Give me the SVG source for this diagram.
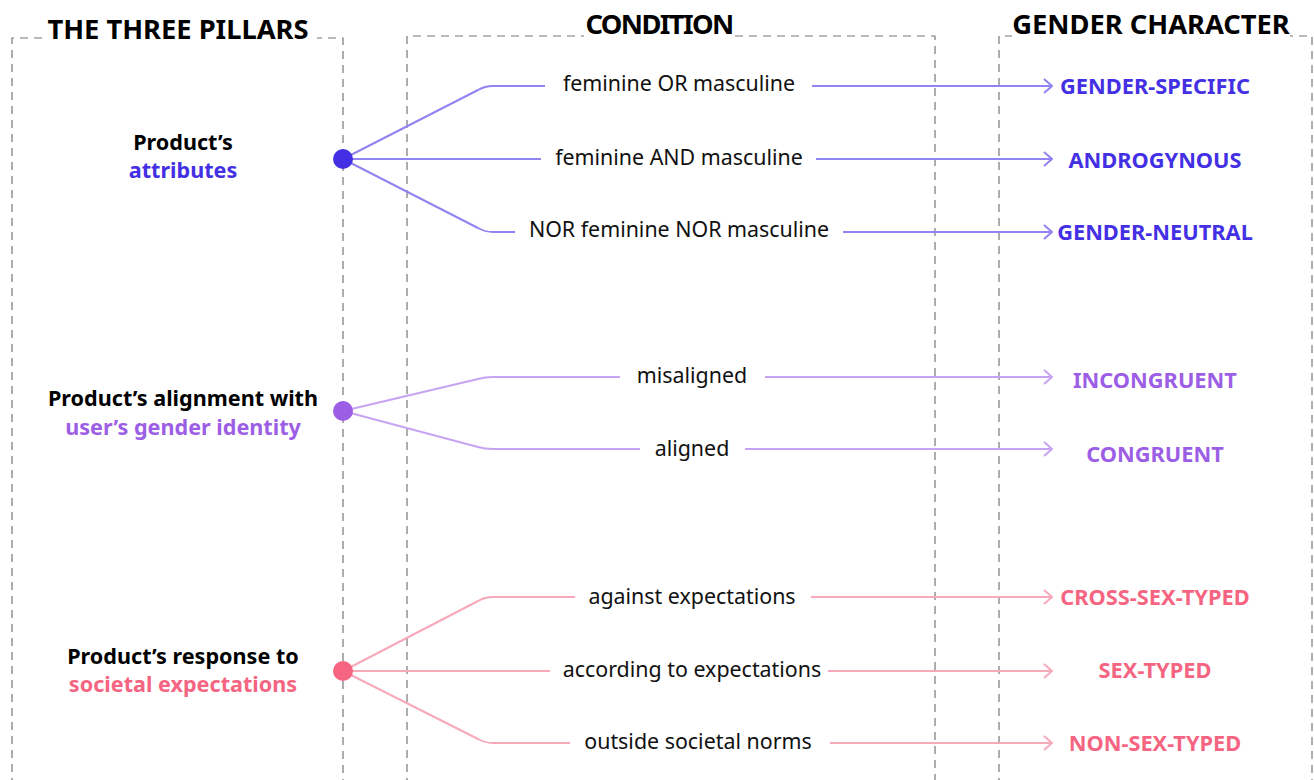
<svg xmlns="http://www.w3.org/2000/svg" width="1314" height="780" viewBox="0 0 1314 780">
<style>
.frame{fill:none;stroke:#777;stroke-width:1.2;stroke-dasharray:8 6}
.title{font-family:"Noto Sans","Liberation Sans",sans-serif;font-weight:700;font-size:27.3px;fill:#000;text-anchor:middle}
.pillar{font-family:"Noto Sans","Liberation Sans",sans-serif;font-weight:700;font-size:21.6px;text-anchor:middle;fill:#000}
.cond{font-family:"Noto Sans","Liberation Sans",sans-serif;font-size:21.4px;fill:#111;text-anchor:middle}
.cat{font-family:"Noto Sans","Liberation Sans",sans-serif;font-weight:700;font-size:21.8px;text-anchor:middle}
.c1{stroke:#8f84f0}.c2{stroke:#c7a4f2}.c3{stroke:#f7a9ba}
.conn path{fill:none;stroke-width:2}
.t1{fill:#4430e4}.t2{fill:#9d5ee6}.t3{fill:#f56582}
</style>
<defs>
<marker id="a1" viewBox="0 0 10 16" refX="9" refY="8" markerWidth="10" markerHeight="16" markerUnits="userSpaceOnUse" orient="auto"><path d="M1 1 L9 8 L1 15" fill="none" stroke="#8f84f0" stroke-width="2"/></marker>
<marker id="a2" viewBox="0 0 10 16" refX="9" refY="8" markerWidth="10" markerHeight="16" markerUnits="userSpaceOnUse" orient="auto"><path d="M1 1 L9 8 L1 15" fill="none" stroke="#c7a4f2" stroke-width="2"/></marker>
<marker id="a3" viewBox="0 0 10 16" refX="9" refY="8" markerWidth="10" markerHeight="16" markerUnits="userSpaceOnUse" orient="auto"><path d="M1 1 L9 8 L1 15" fill="none" stroke="#f7a9ba" stroke-width="2"/></marker>
</defs>
<rect width="1314" height="780" fill="#fff"/>
<g id="frames">
<path class="frame" d="M12 800 V38 H343 V800"/>
<path class="frame" d="M407 800 V36 H935 V800"/>
<path class="frame" d="M999 800 V36 H1312 V800"/>
<rect x="45" y="14" width="272" height="28" fill="#fff"/>
<rect x="584" y="10" width="149" height="30" fill="#fff"/>
<rect x="1012" y="10" width="278" height="30" fill="#fff"/>
<text class="title" x="178" y="39">THE THREE PILLARS</text>
<text class="title" x="659" y="34" style="letter-spacing:-1.6px">CONDITION</text>
<text class="title" x="1151" y="34">GENDER CHARACTER</text>
</g>
<g id="connectors" class="conn">
<path class="c1" d="M343 159 L478 90 Q485 86 493 86 H545"/>
<path class="c1" d="M343 159 H541"/>
<path class="c1" d="M343 159 L478 228 Q485 232 493 232 H515"/>
<path class="c1" d="M812 86 H1052" marker-end="url(#a1)"/>
<path class="c1" d="M816 159 H1052" marker-end="url(#a1)"/>
<path class="c1" d="M843 232 H1052" marker-end="url(#a1)"/>
<path class="c2" d="M343 411 L478 379 Q485 377 493 377 H620"/>
<path class="c2" d="M343 411 L478 447 Q485 449 493 449 H640"/>
<path class="c2" d="M765 377 H1052" marker-end="url(#a2)"/>
<path class="c2" d="M745 449 H1052" marker-end="url(#a2)"/>
<path class="c3" d="M343 671 L478 601 Q485 597 493 597 H575"/>
<path class="c3" d="M343 671 H550"/>
<path class="c3" d="M343 671 L478 739 Q485 743 493 743 H570"/>
<path class="c3" d="M811 597 H1052" marker-end="url(#a3)"/>
<path class="c3" d="M828 671 H1052" marker-end="url(#a3)"/>
<path class="c3" d="M830 743 H1052" marker-end="url(#a3)"/>
</g>
<g id="pillar1">
<circle cx="343" cy="159" r="10" fill="#4430e4"/>
<text class="pillar" x="183" y="150">Product’s</text>
<text class="pillar t1" x="183" y="178">attributes</text>
</g>
<g id="pillar2">
<circle cx="343" cy="411" r="10" fill="#9d5ee6"/>
<text class="pillar" x="183" y="406">Product’s alignment with</text>
<text class="pillar t2" x="183" y="435">user’s gender identity</text>
</g>
<g id="pillar3">
<circle cx="343" cy="671" r="10" fill="#f56582"/>
<text class="pillar" x="183" y="664">Product’s response to</text>
<text class="pillar t3" x="183" y="692">societal expectations</text>
</g>
<g id="conditions">
<text class="cond" x="679" y="91">feminine OR masculine</text>
<text class="cond" x="679" y="165">feminine AND masculine</text>
<text class="cond" x="679" y="237">NOR feminine NOR masculine</text>
<text class="cond" x="692" y="383">misaligned</text>
<text class="cond" x="692" y="456">aligned</text>
<text class="cond" x="692" y="604">against expectations</text>
<text class="cond" x="692" y="677">according to expectations</text>
<text class="cond" x="698" y="749">outside societal norms</text>
</g>
<g id="categories">
<text class="cat t1" x="1155" y="94">GENDER-SPECIFIC</text>
<text class="cat t1" x="1155" y="168">ANDROGYNOUS</text>
<text class="cat t1" x="1155" y="240">GENDER-NEUTRAL</text>
<text class="cat t2" x="1155" y="388">INCONGRUENT</text>
<text class="cat t2" x="1155" y="462">CONGRUENT</text>
<text class="cat t3" x="1155" y="605">CROSS-SEX-TYPED</text>
<text class="cat t3" x="1155" y="678">SEX-TYPED</text>
<text class="cat t3" x="1155" y="751">NON-SEX-TYPED</text>
</g>
</svg>
